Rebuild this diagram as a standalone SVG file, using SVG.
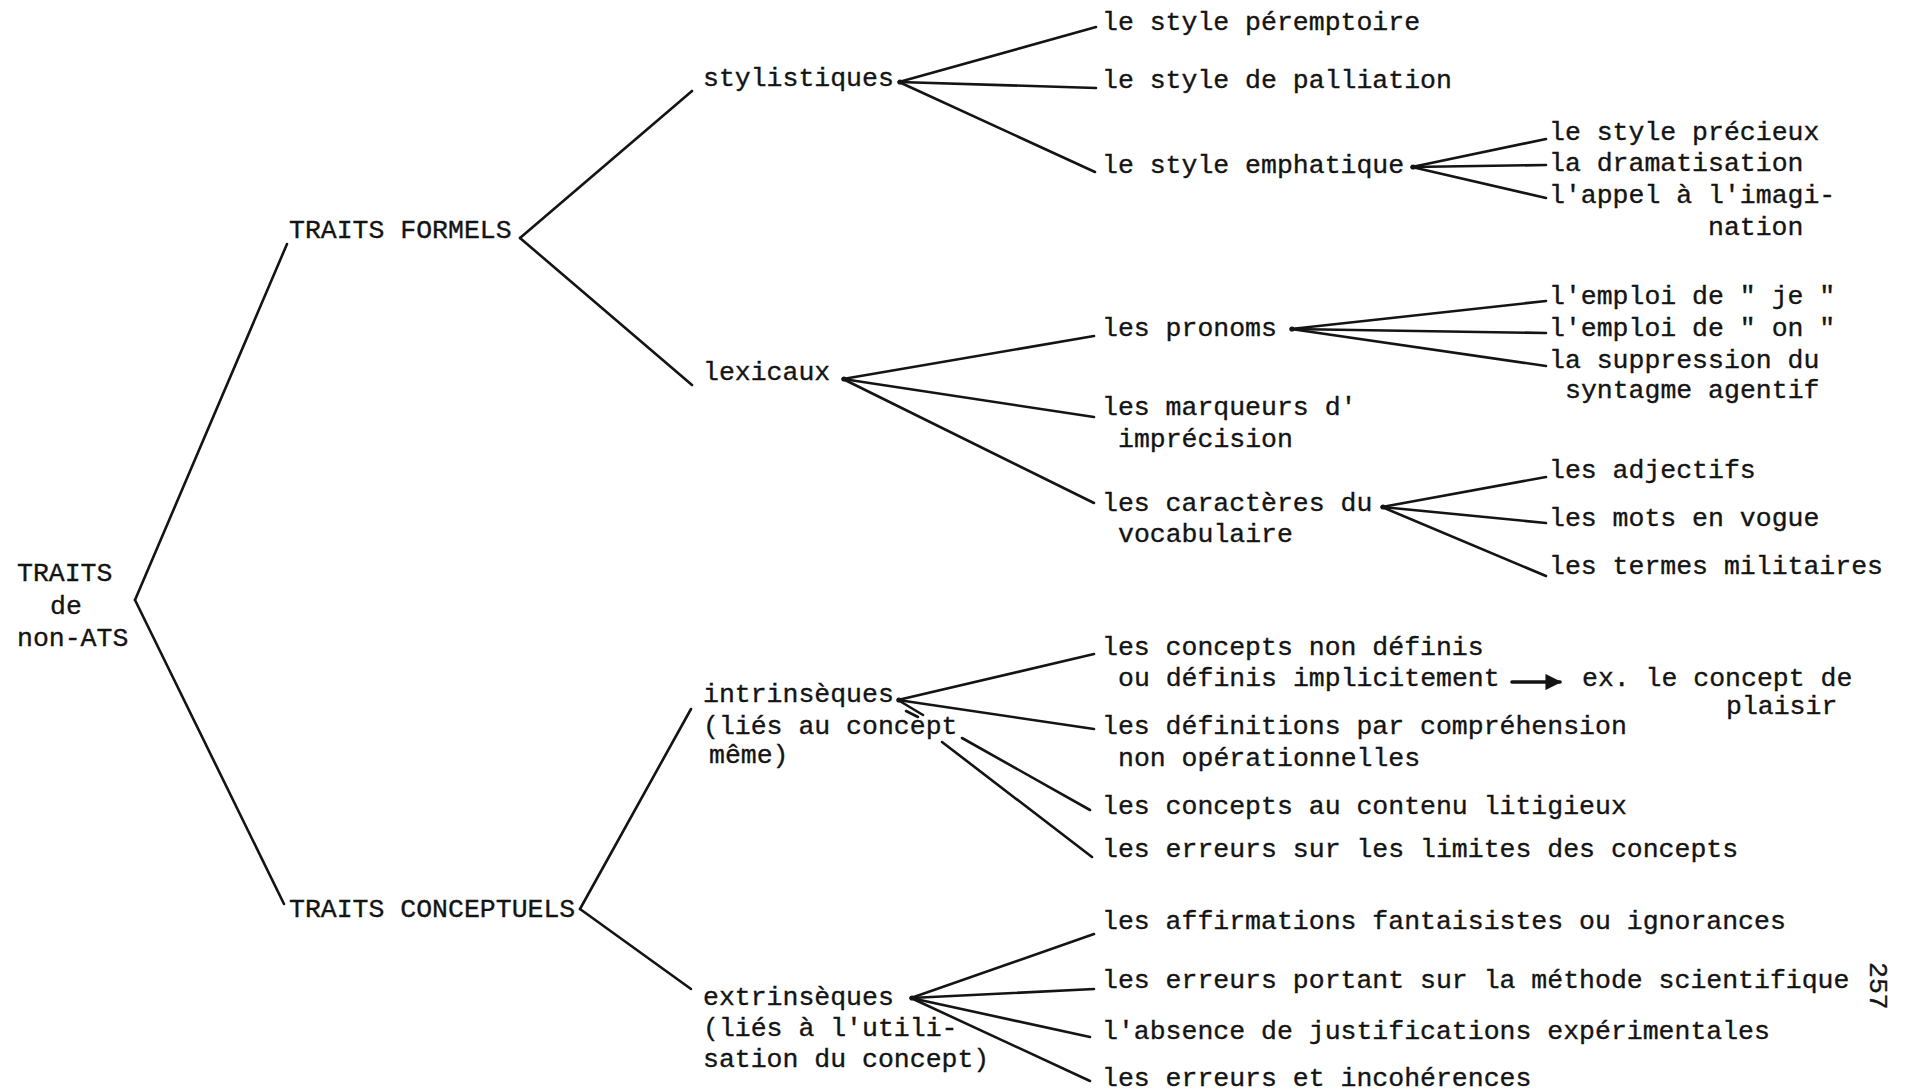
<svg xmlns="http://www.w3.org/2000/svg" width="1913" height="1092" viewBox="0 0 1913 1092">
<defs>
<style>
.t{font-family:"Liberation Mono","Courier New",monospace;font-size:26.5px;fill:#141414;stroke:#141414;stroke-width:0.35;}
.c line{stroke:#141414;stroke-width:2.6;stroke-linecap:round;fill:none;}
.c circle{fill:#141414;}
</style>
<marker id="ah" viewBox="0 0 10 10" refX="9" refY="5" markerWidth="4.5" markerHeight="4.5" markerUnits="strokeWidth" orient="auto">
<path d="M0,0 L10,5 L0,10 z" fill="#141414"/>
</marker>
</defs>
<rect width="1913" height="1092" fill="#ffffff"/>

<g id="connectors" class="c">
<line x1="135" y1="600" x2="287" y2="244"/>
<line x1="135" y1="600" x2="284" y2="904"/>
<line x1="520" y1="238" x2="692" y2="91"/>
<line x1="520" y1="238" x2="692" y2="385"/>
<line x1="580" y1="909" x2="691" y2="709"/>
<line x1="580" y1="909" x2="691" y2="989"/>
<line x1="899" y1="82" x2="1096" y2="27"/>
<line x1="899" y1="82" x2="1096" y2="88"/>
<line x1="899" y1="82" x2="1095" y2="172"/>
<circle cx="900" cy="82" r="2.6"/>
<line x1="1412" y1="167" x2="1546" y2="139"/>
<line x1="1412" y1="167" x2="1546" y2="165"/>
<line x1="1412" y1="167" x2="1546" y2="198"/>
<circle cx="1413" cy="167" r="2.6"/>
<line x1="843" y1="379" x2="1094" y2="336"/>
<line x1="843" y1="379" x2="1094" y2="417"/>
<line x1="843" y1="379" x2="1094" y2="503"/>
<circle cx="844" cy="379" r="2.6"/>
<line x1="1291" y1="329" x2="1546" y2="301"/>
<line x1="1291" y1="329" x2="1546" y2="333"/>
<line x1="1291" y1="329" x2="1546" y2="366"/>
<circle cx="1292" cy="329" r="2.6"/>
<line x1="1382" y1="507" x2="1546" y2="477"/>
<line x1="1382" y1="507" x2="1546" y2="523"/>
<line x1="1382" y1="507" x2="1546" y2="576"/>
<circle cx="1383" cy="507" r="2.6"/>
<line x1="898" y1="700" x2="1094" y2="654"/>
<line x1="898" y1="700" x2="1094" y2="729"/>
<line x1="898" y1="700" x2="923" y2="715"/>
<line x1="906" y1="711" x2="918" y2="717"/>
<circle cx="899" cy="700" r="2.6"/>
<line x1="962" y1="738" x2="1090" y2="810"/>
<line x1="942" y1="742" x2="1092" y2="857"/>
<line x1="911" y1="998" x2="1094" y2="934"/>
<line x1="911" y1="998" x2="1094" y2="989"/>
<line x1="911" y1="998" x2="1090" y2="1037"/>
<line x1="911" y1="998" x2="1090" y2="1081"/>
<circle cx="912" cy="998" r="2.6"/>
<line x1="1512" y1="682" x2="1560" y2="682" style="stroke-width:3.6" marker-end="url(#ah)"/>
</g>

<g id="root"><text class="t" x="17" y="581">TRAITS</text><text class="t" x="50" y="614">de</text><text class="t" x="17" y="646">non-ATS</text></g>
<g id="traits-formels"><text class="t" x="289" y="238">TRAITS FORMELS</text></g>
<g id="traits-conceptuels"><text class="t" x="289" y="917">TRAITS CONCEPTUELS</text></g>
<g id="stylistiques"><text class="t" x="703" y="86">stylistiques</text></g>
<g id="lexicaux"><text class="t" x="703" y="380">lexicaux</text></g>
<g id="intrinseques"><text class="t" x="703" y="702">intrinsèques</text><text class="t" x="703" y="734">(liés au concept</text><text class="t" x="709" y="763">même)</text></g>
<g id="extrinseques"><text class="t" x="703" y="1005">extrinsèques</text><text class="t" x="703" y="1036">(liés à l'utili-</text><text class="t" x="703" y="1067">sation du concept)</text></g>
<g id="peremptoire"><text class="t" x="1102" y="30">le style péremptoire</text></g>
<g id="palliation"><text class="t" x="1102" y="88">le style de palliation</text></g>
<g id="emphatique"><text class="t" x="1102" y="173">le style emphatique</text></g>
<g id="precieux"><text class="t" x="1549" y="140">le style précieux</text></g>
<g id="dramatisation"><text class="t" x="1549" y="171">la dramatisation</text></g>
<g id="imagination"><text class="t" x="1549" y="203">l'appel à l'imagi-</text><text class="t" x="1708" y="235">nation</text></g>
<g id="pronoms"><text class="t" x="1102" y="336">les pronoms</text></g>
<g id="marqueurs"><text class="t" x="1102" y="415">les marqueurs d'</text><text class="t" x="1118" y="447">imprécision</text></g>
<g id="caracteres"><text class="t" x="1102" y="511">les caractères du</text><text class="t" x="1118" y="542">vocabulaire</text></g>
<g id="je"><text class="t" x="1549" y="304">l'emploi de " je "</text></g>
<g id="on"><text class="t" x="1549" y="336">l'emploi de " on "</text></g>
<g id="suppression"><text class="t" x="1549" y="368">la suppression du</text><text class="t" x="1565" y="398">syntagme agentif</text></g>
<g id="adjectifs"><text class="t" x="1549" y="478">les adjectifs</text></g>
<g id="vogue"><text class="t" x="1549" y="526">les mots en vogue</text></g>
<g id="militaires"><text class="t" x="1549" y="574">les termes militaires</text></g>
<g id="non-definis"><text class="t" x="1102" y="655">les concepts non définis</text><text class="t" x="1118" y="686">ou définis implicitement</text></g>
<g id="plaisir"><text class="t" x="1582" y="686">ex. le concept de</text><text class="t" x="1726" y="714">plaisir</text></g>
<g id="definitions"><text class="t" x="1102" y="734">les définitions par compréhension</text><text class="t" x="1118" y="766">non opérationnelles</text></g>
<g id="litigieux"><text class="t" x="1102" y="814">les concepts au contenu litigieux</text></g>
<g id="limites"><text class="t" x="1102" y="857">les erreurs sur les limites des concepts</text></g>
<g id="affirmations"><text class="t" x="1102" y="929">les affirmations fantaisistes ou ignorances</text></g>
<g id="methode"><text class="t" x="1102" y="988">les erreurs portant sur la méthode scientifique</text></g>
<g id="justifications"><text class="t" x="1102" y="1039">l'absence de justifications expérimentales</text></g>
<g id="incoherences"><text class="t" x="1102" y="1086">les erreurs et incohérences</text></g>
<g id="page"><text class="t" transform="translate(1870 962) rotate(90)">257</text></g>
</svg>
